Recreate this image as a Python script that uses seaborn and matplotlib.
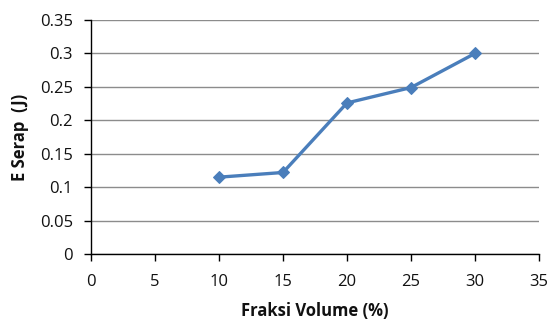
import matplotlib
matplotlib.use("Agg")
import matplotlib.pyplot as plt
import seaborn as sns
import pandas as pd

fraksi = [10, 15, 20, 25, 30]
e_serap = [0.115, 0.122, 0.226, 0.249, 0.300]
x_ticks = [0, 5, 10, 15, 20, 25, 30, 35]
y_ticks = [0, 0.05, 0.1, 0.15, 0.2, 0.25, 0.3, 0.35]
y_labels = ["0", "0.05", "0.1", "0.15", "0.2", "0.25", "0.3", "0.35"]

sns.set_style("white")
plt.rcParams['font.family'] = ['Open Sans', 'DejaVu Sans']

df = pd.DataFrame({"Fraksi Volume (%)": fraksi, "E Serap (J)": e_serap})

fig = plt.figure(figsize=(5.5, 3.2), dpi=100)
ax = fig.add_axes([0.1655, 0.206, 0.8145, 0.7315])
sns.lineplot(data=df, x="Fraksi Volume (%)", y="E Serap (J)", ax=ax,
             color="#4A7EBB", linewidth=2.4, marker="D", markersize=6.5,
             markeredgecolor="#4A7EBB")

ax.set_xlim(0, 35)
ax.set_ylim(0, 0.35)
ax.set_xticks(x_ticks)
ax.set_yticks(y_ticks)
ax.set_yticklabels(y_labels)
ax.yaxis.grid(True, color="#8c8c8c", linewidth=1)
ax.set_axisbelow(True)
for s in ["top", "right"]:
    ax.spines[s].set_visible(False)
for s in ["left", "bottom"]:
    ax.spines[s].set_color("#000000")
    ax.spines[s].set_linewidth(1)
ax.tick_params(axis="both", direction="out", length=5, width=1, color="#000000",
               labelsize=12, labelcolor="#111111", left=True, bottom=True)
ax.tick_params(axis="y", pad=8)
ax.tick_params(axis="x", pad=9)
ax.set_xlabel("Fraksi Volume (%)", fontsize=12, fontweight="bold", labelpad=9,
              color="#111111")
ax.set_ylabel("E Serap  (J)", fontsize=12, fontweight="bold", labelpad=8,
              color="#111111")

fig.savefig("out.png", dpi=100)
